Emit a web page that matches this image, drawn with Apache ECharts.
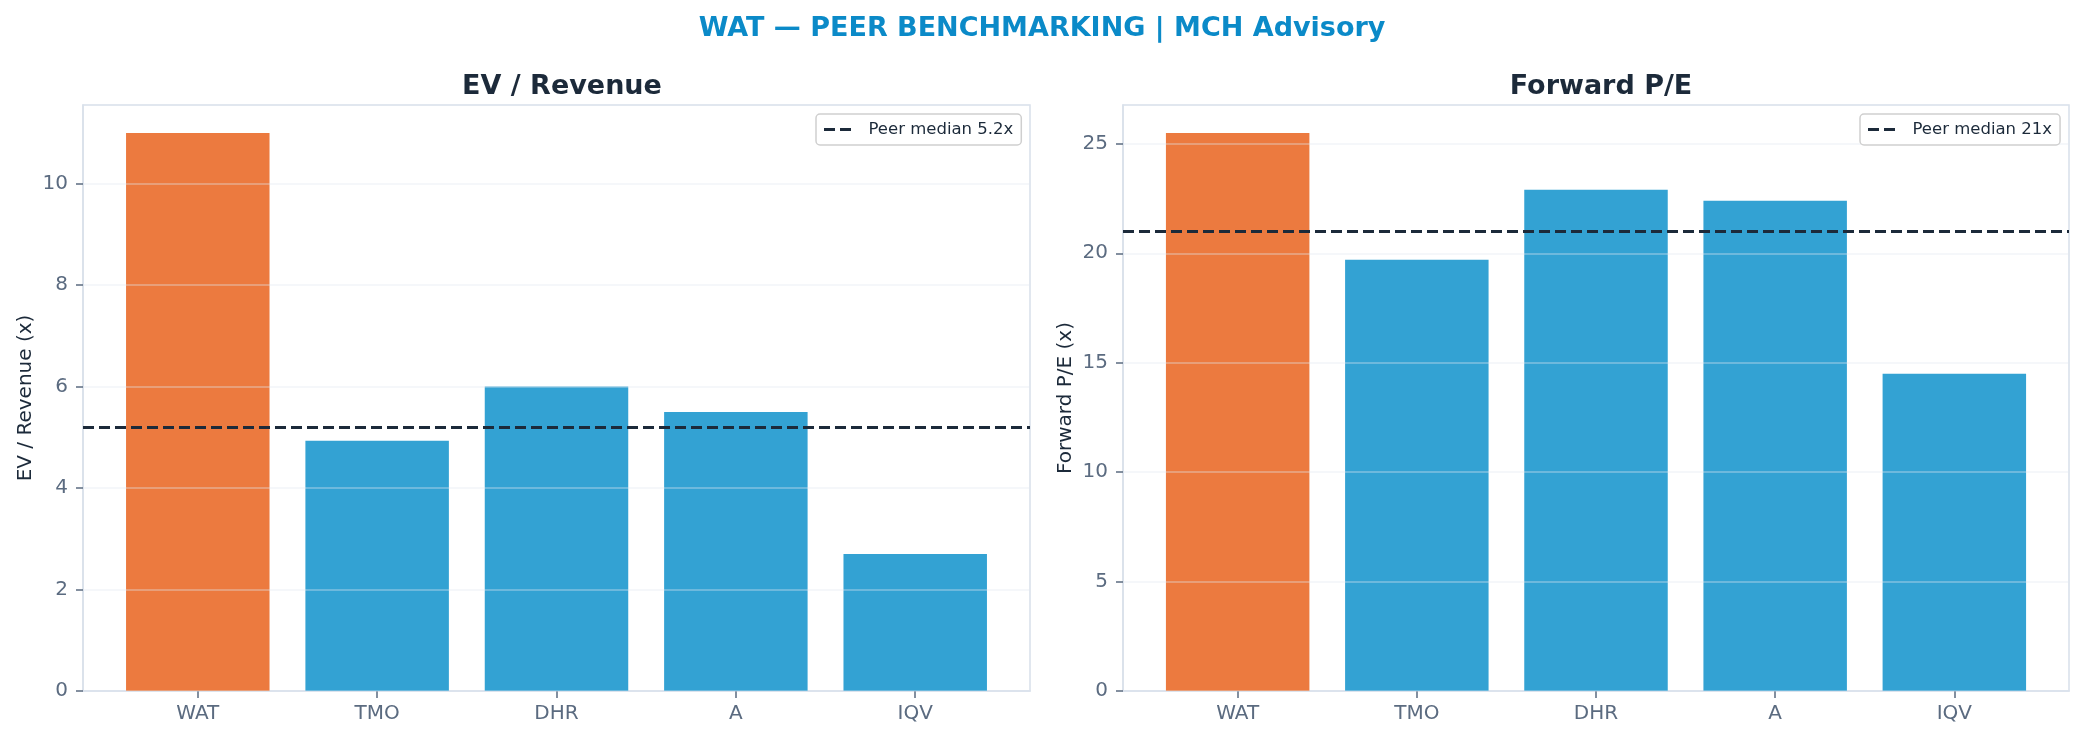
<!DOCTYPE html>
<html>
<head>
<meta charset="utf-8">
<script src="https://cdn.jsdelivr.net/npm/echarts@6/dist/echarts.min.js"></script>
<style>
  html, body { margin: 0; padding: 0; background: #fff; }
  #main { width: 2084px; height: 741px; }
</style>
</head>
<body>
<div id="main"></div>
<script>
// peer set, target first
var tickers = ['WAT', 'TMO', 'DHR', 'A', 'IQV'];
var target = 'WAT';
var evRevenue = [11.0, 4.93, 6.0, 5.5, 2.7];
var forwardPE = [25.5, 19.7, 22.9, 22.4, 14.5];
var medianEvRev = 5.2;
var medianPE = 21;
var tickIdx = [0, 1, 2, 3, 4];

var font = 'DejaVu Sans';
var orange = '#ec7a3f';
var blue = '#33a2d3';
var spine = '#d8e0ea';
var tickCol = '#5b6b80';
var ink = '#1c2a3a';

// matplotlib-like x range: bar width 0.8, 5% margins
var xMin = -0.4 - 0.05 * 4.8;
var xMax = 4.4 + 0.05 * 4.8;
var gridW = 947;
var barW = 0.8 * gridW / (xMax - xMin);

function barData(vals) {
	var out = [];
	for (var i = 0; i < vals.length; i++) {
		out.push({
			value: [i, vals[i]],
			itemStyle: { color: tickers[i] == target ? orange : blue }
		});
	}
	return out;
}

function xAxisFor(gi) {
	return {
		type: 'value',
		gridIndex: gi,
		min: xMin,
		max: xMax,
		splitLine: { show: false },
		axisLine: { show: true, onZero: false, lineStyle: { color: spine, width: 1.5 } },
		axisTick: { show: true, length: 7, customValues: tickIdx, lineStyle: { color: tickCol, width: 1.5 } },
		axisLabel: {
			customValues: tickIdx,
			margin: 13,
			color: tickCol,
			fontFamily: font,
			fontSize: 20,
			formatter: function (v) { return tickers[Math.round(v)]; }
		}
	};
}

function yAxisFor(gi, maxVal, step, name) {
	return {
		type: 'value',
		gridIndex: gi,
		min: 0,
		max: maxVal * 1.05,
		interval: step,
		z: 3,
		name: name,
		nameLocation: 'middle',
		nameGap: 47,
		nameTextStyle: { color: ink, fontFamily: font, fontSize: 20 },
		axisLine: { show: true, onZero: false, lineStyle: { color: spine, width: 1.5 } },
		axisTick: { show: true, length: 7, lineStyle: { color: tickCol, width: 1.5 } },
		axisLabel: { showMaxLabel: false, margin: 15, color: tickCol, fontFamily: font, fontSize: 20 },
		splitLine: { show: true, lineStyle: { color: 'rgba(226,232,240,0.45)', width: 1.5 } }
	};
}

function medianSeries(gi, name, val) {
	return [{
		type: 'bar',
		xAxisIndex: gi,
		yAxisIndex: gi,
		barWidth: barW,
		data: gi == 0 ? barData(evRevenue) : barData(forwardPE),
		markLine: {
			silent: true,
			symbol: 'none',
			label: { show: false },
			lineStyle: { color: ink, width: 3, type: [11, 5] },
			data: [{ yAxis: val }]
		}
	}, {
		type: 'line',
		name: name,
		xAxisIndex: gi,
		yAxisIndex: gi,
		data: [],
		symbol: 'none',
		color: ink,
		lineStyle: { color: ink, width: 3, type: [11, 5] }
	}];
}

function legendFor(left, name) {
	return {
		left: left,
		top: 114,
		data: [{ name: name, icon: 'path://M0,0H11V3H0Z M16,0H27V3H16Z' }],
		padding: [7, 8, 7, 8],
		borderColor: '#cfcfcf',
		borderWidth: 1.5,
		borderRadius: 4,
		backgroundColor: '#fff',
		itemWidth: 28,
		itemHeight: 3,
		itemStyle: { color: ink },
		textStyle: { color: ink, fontFamily: font, fontSize: 16.5, padding: [0, 0, 0, 12] }
	};
}

var nameEv = 'Peer median ' + medianEvRev + 'x';
var namePe = 'Peer median ' + medianPE + 'x';

var option = {
	animation: false,
	backgroundColor: '#fff',
	title: [{
		text: 'WAT — PEER BENCHMARKING | MCH Advisory',
		left: 'center',
		top: 10,
		textStyle: { color: '#0b8ac8', fontFamily: font, fontWeight: 'bold', fontSize: 27 }
	}, {
		text: 'EV / Revenue',
		left: 557,
		textAlign: 'center',
		top: 68,
		textStyle: { color: ink, fontFamily: font, fontWeight: 'bold', fontSize: 27 }
	}, {
		text: 'Forward P/E',
		left: 1596,
		textAlign: 'center',
		top: 68,
		textStyle: { color: ink, fontFamily: font, fontWeight: 'bold', fontSize: 27 }
	}],
	legend: [legendFor(816, nameEv), legendFor(1860, namePe)],
	grid: [
		{ left: 83, top: 105, width: gridW, height: 586, show: true, borderColor: spine, borderWidth: 1.5, backgroundColor: 'transparent' },
		{ left: 1123, top: 105, width: 946, height: 586, show: true, borderColor: spine, borderWidth: 1.5, backgroundColor: 'transparent' }
	],
	xAxis: [xAxisFor(0), xAxisFor(1)],
	yAxis: [
		yAxisFor(0, Math.max.apply(null, evRevenue), 2, 'EV / Revenue (x)'),
		yAxisFor(1, Math.max.apply(null, forwardPE), 5, 'Forward P/E (x)')
	],
	series: medianSeries(0, nameEv, medianEvRev).concat(medianSeries(1, namePe, medianPE))
};

var chart = echarts.init(document.getElementById('main'));
chart.setOption(option);
</script>
</body>
</html>
